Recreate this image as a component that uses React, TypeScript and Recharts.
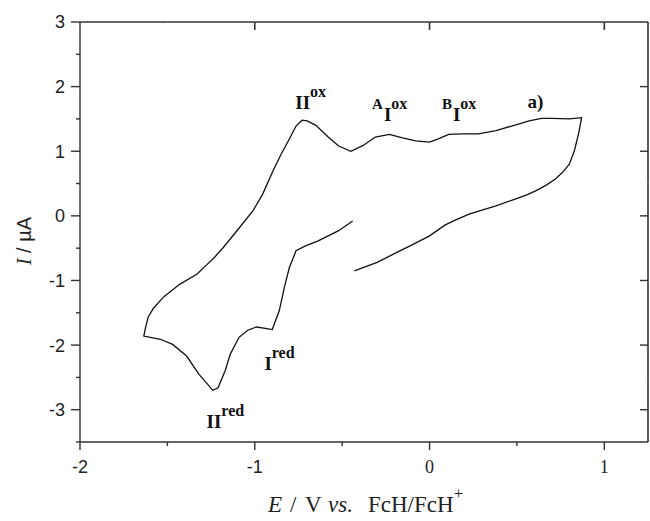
import { LineChart, Line, XAxis, YAxis, ReferenceDot } from 'recharts';

// cyclic voltammogram, points in scan order (E in V vs FcH/FcH+, I in µA)
const potential = [
  -0.43, -0.3, -0.19, -0.1, 0.0, 0.09, 0.16, 0.23, 0.3, 0.38, 0.49, 0.56, 0.61, 0.67, 0.72, 0.76, 0.8, 0.83, 0.855, 0.87,
  0.8, 0.7, 0.64, 0.57, 0.47, 0.38, 0.28, 0.19, 0.11, 0.05, 0.0, -0.08, -0.16, -0.23, -0.31, -0.38, -0.45, -0.52, -0.58,
  -0.65, -0.7, -0.73, -0.764, -0.8, -0.85, -0.9, -0.954, -1.01, -1.087, -1.18, -1.23, -1.28, -1.33, -1.43, -1.52, -1.58,
  -1.61, -1.625, -1.635, -1.54, -1.47, -1.39, -1.32, -1.24, -1.21, -1.17, -1.14, -1.09, -1.04, -0.99, -0.94, -0.9, -0.86,
  -0.83, -0.802, -0.764, -0.707, -0.64, -0.52, -0.44,
];
const current = [
  -0.85, -0.72, -0.57, -0.45, -0.31, -0.14, -0.05, 0.03, 0.09, 0.155, 0.26, 0.33, 0.39, 0.48, 0.57, 0.67, 0.8, 1.02, 1.3, 1.52,
  1.5, 1.51, 1.51, 1.47, 1.39, 1.32, 1.27, 1.27, 1.26, 1.19, 1.14, 1.16, 1.21, 1.26, 1.22, 1.09, 1.0, 1.08, 1.22,
  1.4, 1.47, 1.48, 1.39, 1.2, 0.95, 0.67, 0.34, 0.08, -0.18, -0.49, -0.64, -0.77, -0.9, -1.06, -1.25, -1.43,
  -1.57, -1.73, -1.86, -1.91, -1.99, -2.17, -2.45, -2.7, -2.66, -2.4, -2.14, -1.88, -1.77, -1.72, -1.74, -1.76, -1.47,
  -1.1, -0.8, -0.54, -0.46, -0.39, -0.23, -0.08,
];

const xDomain = [-2, 1.25];
const yDomain = [-3.5, 3];
const xTicks = [-2, -1.5, -1, -0.5, 0, 0.5, 1];
const yTicks = [-3.5, -3, -2.5, -2, -1.5, -1, -0.5, 0, 0.5, 1, 1.5, 2, 2.5, 3];
const topTicks = [-1, 0, 1];

// peak annotations: pre-superscript, main text, superscript
const peakE = [-0.768, -0.329, 0.071, 0.561, -0.945, -1.276];
const peakI = [1.65, 1.47, 1.47, 1.67, -2.38, -3.28];
const peakPre = ['', 'A', 'B', '', '', ''];
const peakMain = ['II', 'I', 'I', 'a)', 'I', 'II'];
const peakSup = ['ox', 'ox', 'ox', '', 'red', 'red'];

const data = potential.map((E, i) => ({ E, I: current[i] }));

const W = 650;
const H = 521;
const MARGIN = { top: 22, right: 2, left: 0, bottom: 0 };
const Y_AXIS_W = 80;
const X_AXIS_H = 79;
const PLOT_W = W - MARGIN.left - MARGIN.right - Y_AXIS_W;
const PLOT_H = H - MARGIN.top - MARGIN.bottom - X_AXIS_H;

const SANS = "'Liberation Sans', Arial, sans-serif";
const SERIF = "'Liberation Serif', 'Times New Roman', serif";
const AXIS = '#333';
const FRAME = '#333';

// left ticks point out; the mirrored right-side ticks point in
const LeftTick = ({ x, y, payload }: any) => {
  const v = payload.value;
  const major = Number.isInteger(v);
  const inner = major && v > yDomain[0] && v < yDomain[1];
  return (
    <g>
      <line x1={x - (major ? 9 : 4)} x2={x} y1={y} y2={y} stroke={AXIS} strokeWidth={1.4} />
      {inner && <line x1={x + PLOT_W - 8} x2={x + PLOT_W} y1={y} y2={y} stroke={AXIS} strokeWidth={1.4} />}
      {/* right edge of the box, drawn piece by piece between ticks */}
      {v < yDomain[1] && (
        <line x1={x + PLOT_W} x2={x + PLOT_W} y1={y} y2={y - PLOT_H / 13} stroke={FRAME} strokeWidth={1.6} />
      )}
      {major && (
        <text x={x - 15} y={y} dy="0.36em" textAnchor="end" fontFamily={SANS} fontSize={18} fill="#222">
          {v}
        </text>
      )}
    </g>
  );
};

// bottom ticks point out; the top edge of the box and its inward ticks are drawn here too
const BottomTick = ({ x, y, payload }: any) => {
  const v = payload.value;
  const major = Number.isInteger(v);
  const top = y - PLOT_H;
  const step = PLOT_W / 6.5;
  return (
    <g>
      <line x1={x} x2={x} y1={y} y2={y + (major ? 8 : 4)} stroke={AXIS} strokeWidth={1.4} />
      <line x1={x} x2={v === 1 ? x + step / 2 : x + step} y1={top} y2={top} stroke={FRAME} strokeWidth={1.6} />
      {major && v > xDomain[0] && (
        <line x1={x} x2={x} y1={top} y2={top + 8} stroke={FRAME} strokeWidth={1.6} />
      )}
      {major && (
        <text x={x} y={y + 31} textAnchor="middle" fontFamily={v < 0 ? SANS : SERIF} fontSize={18} fill="#222">
          {v}
        </text>
      )}
    </g>
  );
};

const PeakText = ({ viewBox, i }: any) => (
  <text x={viewBox.x} y={viewBox.y} fontFamily={SERIF} fontWeight="bold" fontSize={19} fill="#111">
    {peakPre[i] && (
      <tspan fontSize={15} dy={-12}>
        {peakPre[i]}
      </tspan>
    )}
    <tspan fontSize={19} dy={peakPre[i] ? 12 : 0} dx={peakPre[i] ? 1 : 0}>
      {peakMain[i]}
    </tspan>
    {peakSup[i] && (
      <tspan fontSize={16} dy={-12}>
        {peakSup[i]}
      </tspan>
    )}
  </text>
);

const XTitle = ({ viewBox }: any) => {
  const x0 = viewBox.x;
  const y = viewBox.y + 70;
  return (
    <text y={y} fontFamily={SERIF} fontSize={23} fill="#222">
      <tspan x={x0 + 188} fontStyle="italic">E</tspan>
      <tspan x={x0 + 210}>/</tspan>
      <tspan x={x0 + 225}>V</tspan>
      <tspan x={x0 + 248} fontStyle="italic">vs.</tspan>
      <tspan x={x0 + 288}>FcH/FcH</tspan>
      <tspan dy={-13} fontSize={17}>+</tspan>
    </text>
  );
};

const YTitle = ({ viewBox }: any) => {
  const cx = 31;
  const cy = viewBox.y + viewBox.height / 2 + 9;
  return (
    <text x={cx} y={cy} transform={`rotate(-90, ${cx}, ${cy})`} textAnchor="middle" fontSize={20} fill="#222">
      <tspan fontFamily={SERIF} fontStyle="italic">
        I
      </tspan>
      <tspan fontFamily={SANS}>{' / µA'}</tspan>
    </text>
  );
};

export default function App() {
  return (
    <div style={{ position: 'absolute', left: 0, top: 0, width: W, height: H, background: '#fff' }}>
      <LineChart width={W} height={H} data={data} margin={MARGIN}>
        <XAxis
          dataKey="E"
          type="number"
          domain={xDomain}
          ticks={xTicks}
          interval={0}
          height={X_AXIS_H}
          tickSize={0}
          tickMargin={0}
          tickLine={false}
          tick={<BottomTick />}
          axisLine={{ stroke: AXIS, strokeWidth: 1.4 }}
          allowDataOverflow
          label={XTitle}
        />
        <YAxis
          type="number"
          domain={yDomain}
          ticks={yTicks}
          interval={0}
          width={Y_AXIS_W}
          tickSize={0}
          tickMargin={0}
          tickLine={false}
          tick={<LeftTick />}
          axisLine={{ stroke: AXIS, strokeWidth: 1.4 }}
          allowDataOverflow
          label={YTitle}
        />
        <Line
          dataKey="I"
          type="linear"
          stroke="#111"
          strokeWidth={1.3}
          dot={false}
          isAnimationActive={false}
        />
        {peakE.map((e, i) => (
          <ReferenceDot
            key={i}
            x={e}
            y={peakI[i]}
            r={0}
            fill="none"
            stroke="none"
            label={{ content: (p: any) => <PeakText viewBox={p.viewBox} i={i} /> }}
          />
        ))}
      </LineChart>
    </div>
  );
}
